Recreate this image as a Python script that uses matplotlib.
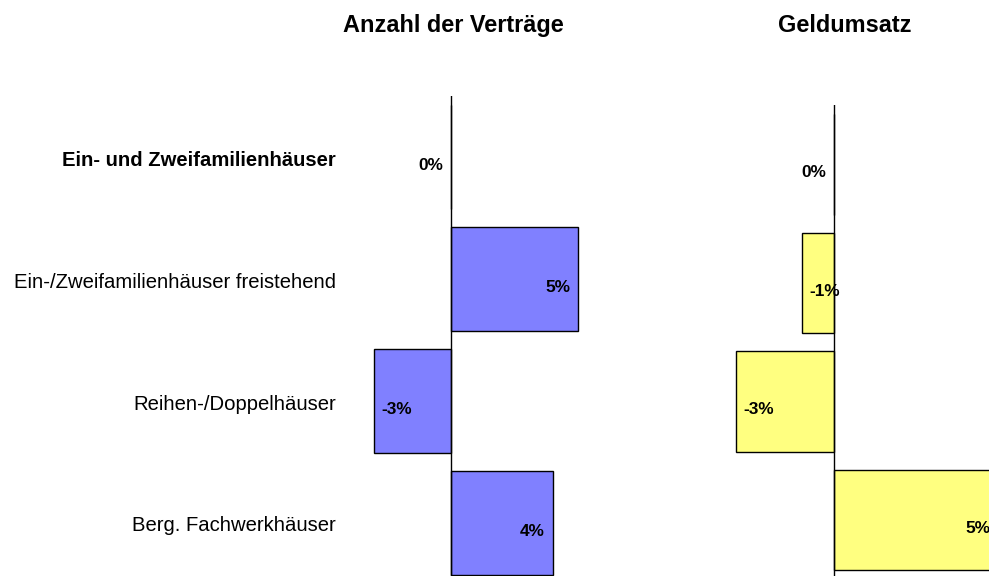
import matplotlib.pyplot as plt

categories = ["Ein- und Zweifamilienhäuser",
              "Ein-/Zweifamilienhäuser freistehend",
              "Reihen-/Doppelhäuser",
              "Berg. Fachwerkhäuser"]
bold_cats = [True, False, False, False]

titles = ["Anzahl der Verträge", "Geldumsatz"]
vertraege = [0, 5, -3, 4]
geldumsatz = [0, -1, -3, 5]

plt.rcParams['font.family'] = ['Liberation Sans', 'DejaVu Sans']

W, H = 989, 576
fig = plt.figure(figsize=(W / 100, H / 100), dpi=100)

# panel geometry in pixels: (left, right, top, bottom, zero-x, px per %)
panels = [
    dict(vals=vertraege, color='#8080FF', l=340, r=640, t=96, b=583.7, x0=450.7, s=25.5, tx=453.5),
    dict(vals=geldumsatz, color='#FFFF80', l=660, r=989, t=105.2, b=579.3, x0=834.3, s=32.8, tx=845),
]

axes = []
for p, title in zip(panels, titles):
    ax = fig.add_axes([p['l'] / W, (H - p['b']) / H, (p['r'] - p['l']) / W, (p['b'] - p['t']) / H])
    ax.set_xlim((p['l'] - p['x0']) / p['s'], (p['r'] - p['x0']) / p['s'])
    ax.set_ylim(len(categories) - 0.5, -0.5)
    ax.barh(range(len(categories)), p['vals'], height=0.85, color=p['color'],
            edgecolor='black', linewidth=1.0, zorder=2)
    ax.axvline(0, color='black', linewidth=1.0, zorder=3)
    for i, v in enumerate(p['vals']):
        if v < 0:
            ax.annotate(f"{v:.0f}%", (v, i), xytext=(5.5, -9.3), textcoords='offset points',
                        ha='left', va='baseline', fontsize=12.4, fontweight='bold',
                        annotation_clip=False, zorder=4)
        else:
            ax.annotate(f"{v:.0f}%", (v, i), xytext=(-5.5, -9.3), textcoords='offset points',
                        ha='right', va='baseline', fontsize=12.4, fontweight='bold',
                        annotation_clip=False, zorder=4)
    ax.axis('off')
    fig.text(p['tx'] / W, 1 - 32.2 / H, title, ha='center', va='baseline',
             fontsize=16.9, fontweight='bold')
    axes.append(ax)

# category labels, aligned to the rows of the left panel
for i, (cat, b) in enumerate(zip(categories, bold_cats)):
    axes[0].annotate(cat, (336 / W, i), xycoords=('figure fraction', 'data'),
                     xytext=(0, -6.3), textcoords='offset points',
                     ha='right', va='baseline', fontsize=14.6,
                     fontweight='bold' if b else 'normal', annotation_clip=False)

fig.savefig("out.png", dpi=100)
